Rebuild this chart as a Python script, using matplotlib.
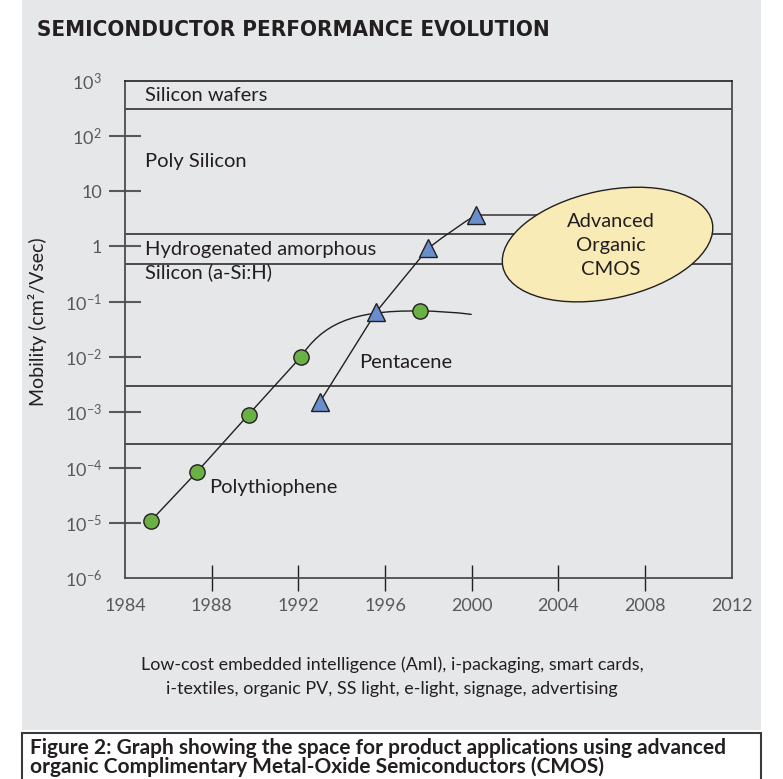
import matplotlib
matplotlib.use('Agg')
import matplotlib.pyplot as plt
import matplotlib.transforms as mtransforms
from matplotlib.patches import Rectangle, Ellipse, PathPatch
from matplotlib.path import Path

plt.rcParams['font.family'] = ['Lato', 'DejaVu Sans']
plt.rcParams['mathtext.fontset'] = 'custom'
plt.rcParams['mathtext.rm'] = 'Lato'
plt.rcParams['mathtext.it'] = 'Lato:italic'
plt.rcParams['mathtext.bf'] = 'Lato:bold'

# --- data ---
poly_years = [1985.2, 1987.3, 1989.7, 1992.1, 1997.6]
poly_mob = [1.1e-5, 8.2e-5, 9.1e-4, 9.9e-3, 6.8e-2]
# smooth trend after 1992 (bezier guide points: year, mobility)
poly_curve_years = [1992.1, 1993.1, 1994.4, 1997.6, 1998.8, 2000.0]
poly_curve_mob = [9.9e-3, 0.038, 0.071, 6.8e-2, 0.068, 0.059]

pent_years = [1993.0, 1995.6, 1998.0, 2000.2]
pent_mob = [1.55e-3, 6.6e-2, 0.93, 3.7]
pent_curve_years = [1998.0, 1999.2, 2000.2, 2004.5]
pent_curve_mob = [0.93, 2.15, 3.7, 3.7]

band_edges = [300, 1.65, 0.49, 3e-3, 2.7e-4]
band_labels = ['Silicon wafers', 'Poly Silicon', 'Hydrogenated amorphous', 'Silicon (a-Si:H)']
band_label_y = [10**2.72, 10**1.53, 10**-0.047, 10**-0.463]

year_ticks = [1984, 1988, 1992, 1996, 2000, 2004, 2008, 2012]
mob_ticks = [1e3, 1e2, 1e1, 1, 1e-1, 1e-2, 1e-3, 1e-4, 1e-5, 1e-6]
mob_tick_labels = ['$10^{3}$', '$10^{2}$', '10', '1', '$10^{-1}$', '$10^{-2}$',
                   '$10^{-3}$', '$10^{-4}$', '$10^{-5}$', '$10^{-6}$']

dark = '#231f20'
grey = '#58595b'

fig = plt.figure(figsize=(7.83, 7.79), dpi=100)
fig.patch.set_facecolor('white')

# background panel + caption box
fig.patches.append(Rectangle((22/783, 1 - 730/779), (761-22)/783, 730/779,
                             transform=fig.transFigure, facecolor='#e6e7e8',
                             edgecolor='none', zorder=-10))
fig.patches.append(Rectangle((22/783, -0.05), (761-22)/783, 0.05 + (779-733)/779,
                             transform=fig.transFigure, facecolor='white',
                             edgecolor='#3a3a3c', lw=1.5, zorder=-10))

fig.text(37/783, 1 - 30/779, 'SEMICONDUCTOR PERFORMANCE EVOLUTION',
         family=['DejaVu Sans'], stretch='condensed', weight='bold',
         fontsize=16, color=dark, va='center', ha='left')

ax = fig.add_axes([125/783, 1 - 578.3/779, (731.7-125)/783, (578.3-80.5)/779])
ax.set_facecolor('none')
ax.set_yscale('log')
ax.set_xlim(1984, 2012)
ax.set_ylim(1e-6, 1e3)

ax.set_xticks(year_ticks)
ax.set_xticklabels([str(y) for y in year_ticks])
ax.set_yticks(mob_ticks)
ax.set_yticklabels(mob_tick_labels)
ax.minorticks_off()
ax.tick_params(axis='x', direction='inout', length=19, width=1, color=dark,
               labelcolor=grey, labelsize=13, pad=5)
ax.tick_params(axis='y', direction='inout', length=23, width=1.5, color=grey,
               labelcolor=grey, labelsize=13, pad=5)
for t in [ax.xaxis.get_major_ticks()[0], ax.xaxis.get_major_ticks()[-1],
          ax.yaxis.get_major_ticks()[0], ax.yaxis.get_major_ticks()[-1]]:
    t.tick1line.set_visible(False)

for side in ['left', 'right', 'bottom']:
    ax.spines[side].set_color('#4d4d4f')
    ax.spines[side].set_linewidth(1.3)
ax.spines['top'].set_color(dark)
ax.spines['top'].set_linewidth(1.2)

for b in band_edges:
    ax.axhline(b, color=dark, lw=1.1, zorder=1)
for lab, yy in zip(band_labels, band_label_y):
    ax.text(1984.92, yy, lab, fontsize=14.5, color=dark, va='center', ha='left')

fig.text(38/783, 1 - 322/779, 'Mobility (cm²/Vsec)', rotation=90, fontsize=14,
         color=dark, ha='center', va='center')

# polythiophene
ax.plot(poly_years[:4], poly_mob[:4], color=dark, lw=1, zorder=2)
pc = list(zip(poly_curve_years, poly_curve_mob))
ax.add_patch(PathPatch(Path(pc, [Path.MOVETO, Path.CURVE4, Path.CURVE4, Path.CURVE4,
                                 Path.CURVE3, Path.CURVE3]),
                       facecolor='none', edgecolor=dark, lw=1, zorder=2))
ax.plot(poly_years, poly_mob, linestyle='none', marker='o', ms=11,
        markerfacecolor='#6ab044', markeredgecolor=dark, markeredgewidth=1, zorder=4)

# pentacene
ax.plot(pent_years[:3], pent_mob[:3], color=dark, lw=1, zorder=2)
qc = list(zip(pent_curve_years, pent_curve_mob))
ax.add_patch(PathPatch(Path(qc, [Path.MOVETO, Path.CURVE3, Path.CURVE3, Path.LINETO]),
                       facecolor='none', edgecolor=dark, lw=1, zorder=2))
ax.plot(pent_years, pent_mob, linestyle='none', marker='^', ms=13,
        markerfacecolor='#6a8dcb', markeredgecolor=dark, markeredgewidth=1, zorder=4)

ax.text(1994.81, 10**-2.096, 'Pentacene', fontsize=14.5, color=dark, va='center', ha='left')
ax.text(1987.88, 10**-4.363, 'Polythiophene', fontsize=14.5, color=dark, va='center', ha='left')

# Advanced Organic CMOS bubble
etrans = fig.dpi_scale_trans + mtransforms.ScaledTranslation(2006.27, 10**0.034, ax.transData)
ax.add_patch(Ellipse((0, 0), 2.14, 1.08, angle=12, transform=etrans,
                     facecolor='#f9ebb5', edgecolor=dark, lw=1, zorder=5))
ax.text(2006.43, 10**0.025, 'Advanced\nOrganic\nCMOS', fontsize=14.5, color=dark,
        ha='center', va='center', linespacing=1.5, zorder=6)

fig.text(392/783, 1 - 665/779,
         'Low-cost embedded intelligence (AmI), i-packaging, smart cards,',
         fontsize=12.9, color=dark, ha='center', va='center')
fig.text(392/783, 1 - 689/779,
         'i-textiles, organic PV, SS light, e-light, signage, advertising',
         fontsize=12.9, color=dark, ha='center', va='center')

fig.text(30/783, 1 - 748/779,
         'Figure 2: Graph showing the space for product applications using advanced',
         fontsize=15, weight='bold', color=dark, ha='left', va='center')
fig.text(30/783, 1 - 767/779,
         'organic Complimentary Metal-Oxide Semiconductors (CMOS)',
         fontsize=15, weight='bold', color=dark, ha='left', va='center')

fig.savefig('out.png', dpi=100, facecolor=fig.get_facecolor())
